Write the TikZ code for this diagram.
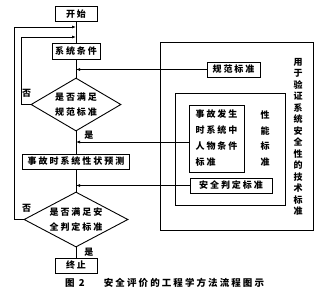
\documentclass[tikz,border=0pt]{standalone}
\usepackage{fontspec}
\setmainfont{Noto Sans CJK SC}[LetterSpace=22]
\usetikzlibrary{arrows.meta,shapes.geometric}
\tikzset{
  >=Latex,
  box/.style={draw=black,line width=.9pt,minimum height=15pt,inner sep=1pt,align=center,font=\bfseries\fontsize{9}{11}\selectfont},
  choice/.style={diamond,draw=black,line width=.9pt,inner sep=0pt,align=center,font=\bfseries\fontsize{9}{15.5}\selectfont},
  frame/.style={draw=black,line width=.9pt,inner sep=0pt},
  vtext/.style={align=center,inner sep=0pt},
  tag/.style={font=\bfseries\fontsize{9}{11}\selectfont,inner sep=0pt},
  link/.style={line width=.8pt},
  feed/.style={-{Latex[length=4pt,width=3pt]},line width=.8pt}
}
\begin{document}
\begin{tikzpicture}[x=1pt,y=-1pt]
  \useasboundingbox (0,0) rectangle (319,293);
  % main flow
  \node[box,minimum width=42pt] (start) at (76,14) {开始};
  \node[box,minimum width=48pt,minimum height=16pt] (cond) at (76,51) {系统条件};
  \node[choice,aspect=1.7,minimum width=90pt,minimum height=53pt] (chk1) at (76,104.5) {是否满足\\规范标准};
  \node[box,minimum width=107pt] (pred) at (76,161.5) {事故时系统性状预测};
  \node[choice,aspect=1.9,minimum width=104pt,minimum height=55pt] (chk2) at (76,219.5) {是否满足安\\全判定标准};
  \node[box,minimum width=42pt] (stop) at (76,265.5) {终止};
  \node[tag] (no1) at ([xshift=-4pt,yshift=11pt]chk1.west) {否};
  \node[tag] (no2) at ([xshift=3pt,yshift=11pt]chk2.west) {否};
  % standards
  \node[frame,minimum width=153pt,minimum height=188pt] (outer) at (236.5,136) {};
  \node[frame,minimum width=110pt,minimum height=112pt] (inner) at (230,149) {};
  \node[box,minimum width=53pt] (norm) at (233.5,69.5) {规范标准};
  \node[box,minimum width=55pt,minimum height=67pt,align=left,font=\bfseries\fontsize{9}{16}\selectfont] (accid) at (216.5,138.5) {事故发生\\时系统中\\人物条件\\标准};
  \node[vtext,font=\bfseries\fontsize{9}{15.7}\selectfont] (perf) at (265,138.5) {性\\能\\标\\准};
  \node[box,minimum width=82pt] (judge) at (231,185.5) {安全判定标准};
  \node[vtext,font=\bfseries\fontsize{9}{11.5}\selectfont] (title) at (298,137) {用\\于\\验\\证\\系\\统\\安\\全\\性\\的\\技\\术\\标\\准};
  % caption
  \node[tag,font=\bfseries\fontsize{9.5}{11}\selectfont] (fig) at (75,283) {图 2};
  \node[tag,font=\bfseries\fontsize{9.5}{11}\selectfont] (cap) at (184,283) {安全评价的工程学方法流程图示};
  % connectors
  \coordinate (j1) at (76,37);
  \coordinate (j2) at (76,27);
  \draw[link] (start) -- (cond);
  \draw[link] (cond) -- (chk1);
  \draw[link] (chk1.south) -- node[tag,pos=.15,right=8pt] (yes1) {是} (pred.north);
  \draw[link] (pred) -- (chk2);
  \draw[link] (chk2.south) -- node[tag,pos=.45,right=8pt] (yes2) {是} (stop.north);
  \draw[feed] (chk1.west) -- ++(-9,0) |- (j1);
  \draw[feed] (chk2.west) -- ++(-9,0) |- (j2);
  \draw[feed] (norm.west) -- (norm.west -| cond.center);
  \draw[feed] ([yshift=-3.5pt]accid.west) -- ([yshift=-3.5pt]accid.west -| cond.center);
  \draw[feed] (judge.west) -- (judge.west -| cond.center);
\end{tikzpicture}
\end{document}
